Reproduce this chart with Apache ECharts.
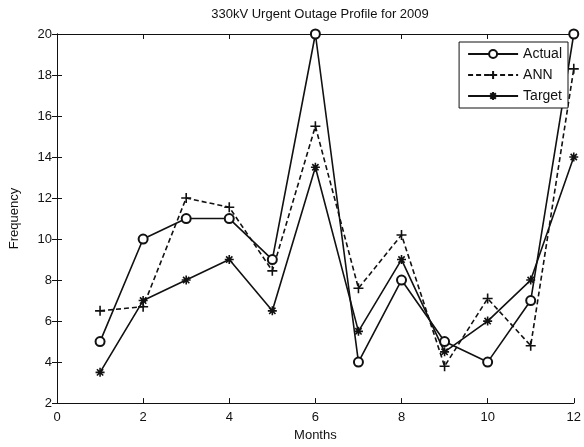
<!DOCTYPE html>
<html>
<head>
<meta charset="utf-8">
<script src="https://cdn.jsdelivr.net/npm/echarts@6/dist/echarts.min.js"></script>
<style>
  html, body { margin: 0; padding: 0; background: #fff; }
  #chart { width: 584px; height: 447px; }
</style>
</head>
<body>
<div id="chart"></div>
<script>
// months 1..12
var months = [1, 2, 3, 4, 5, 6, 7, 8, 9, 10, 11, 12];
var actual = [5, 10, 11, 11, 9, 20, 4, 8, 5, 4, 7, 20];
var ann = [6.5, 6.7, 12, 11.55, 8.45, 15.5, 7.6, 10.2, 3.8, 7.1, 4.8, 18.3];
var target = [3.5, 7, 8, 9, 6.5, 13.5, 5.5, 9, 4.5, 6, 8, 14];

function pairs(vals) {
    return months.map(function (m, i) { return [m, vals[i]]; });
}

var plusPath = 'path://M0,-10L0,10M-10,0L10,0';
var starPath = 'path://M0,-10L0,10M-10,0L10,0M-7,-7L7,7M-7,7L7,-7';
var ink = '#111';
var font = 'Liberation Sans, Arial, sans-serif';

var myChart = echarts.init(document.getElementById('chart'));

// matlab style: small ticks pointing into the box
function tick() {
    return { show: true, inside: true, length: 5, lineStyle: { color: ink, width: 1 } };
}

var option = {
    backgroundColor: '#fff',
    animation: false,
    title: {
        text: '330kV Urgent Outage Profile for 2009',
        left: 315,
        textAlign: 'center',
        top: 3,
        textStyle: { fontFamily: font, fontSize: 13, fontWeight: 'normal', color: ink }
    },
    legend: {
        orient: 'vertical',
        right: 16,
        top: 42,
        itemWidth: 50,
        itemHeight: 10,
        itemGap: 7,
        padding: [5, 6, 5, 8],
        borderColor: ink,
        borderWidth: 1,
        backgroundColor: '#fff',
        textStyle: { fontFamily: font, fontSize: 14, color: ink },
        data: ['Actual', 'ANN', 'Target']
    },
    grid: { left: 56, right: 10, top: 34, bottom: 40 },
    xAxis: [{
        type: 'value',
        min: 0, max: 12, interval: 2,
        name: 'Months',
        nameLocation: 'middle',
        nameGap: 25,
        nameTextStyle: { fontFamily: font, fontSize: 13, color: ink },
        axisLine: { lineStyle: { color: ink, width: 1 } },
        axisTick: tick(),
        axisLabel: { fontFamily: font, fontSize: 13, color: ink, margin: 8 },
        splitLine: { show: false }
    }, {
        type: 'value',
        position: 'top',
        min: 0, max: 12, interval: 2,
        axisLine: { show: true, lineStyle: { color: ink, width: 1 } },
        axisTick: tick(),
        axisLabel: { show: false },
        splitLine: { show: false }
    }],
    yAxis: [{
        type: 'value',
        min: 2, max: 20, interval: 2,
        name: 'Frequency',
        nameLocation: 'middle',
        nameGap: 36,
        nameTextStyle: { fontFamily: font, fontSize: 13, color: ink },
        axisLine: { show: true, lineStyle: { color: ink, width: 1 } },
        axisTick: tick(),
        axisLabel: { fontFamily: font, fontSize: 13, color: ink, margin: 5 },
        splitLine: { show: false }
    }, {
        type: 'value',
        position: 'right',
        min: 2, max: 20, interval: 2,
        axisLine: { show: true, lineStyle: { color: ink, width: 1 } },
        axisTick: tick(),
        axisLabel: { show: false },
        splitLine: { show: false }
    }],
    series: [{
        name: 'Actual',
        type: 'line',
        data: pairs(actual),
        symbol: 'emptyCircle',
        symbolSize: 9,
        color: ink,
        lineStyle: { color: ink, width: 1.6 },
        itemStyle: { color: ink, borderWidth: 1.6 },
        z: 3
    }, {
        name: 'ANN',
        type: 'line',
        data: pairs(ann),
        symbol: plusPath,
        symbolSize: 10,
        color: ink,
        lineStyle: { color: ink, width: 1.6, type: [5, 3] },
        itemStyle: { color: ink, borderColor: ink, borderWidth: 1.6 },
        z: 2
    }, {
        name: 'Target',
        type: 'line',
        data: pairs(target),
        symbol: starPath,
        symbolSize: 9,
        color: ink,
        lineStyle: { color: ink, width: 1.6 },
        itemStyle: { color: ink, borderColor: ink, borderWidth: 1.6 },
        z: 2
    }]
};

myChart.setOption(option);
</script>
</body>
</html>
